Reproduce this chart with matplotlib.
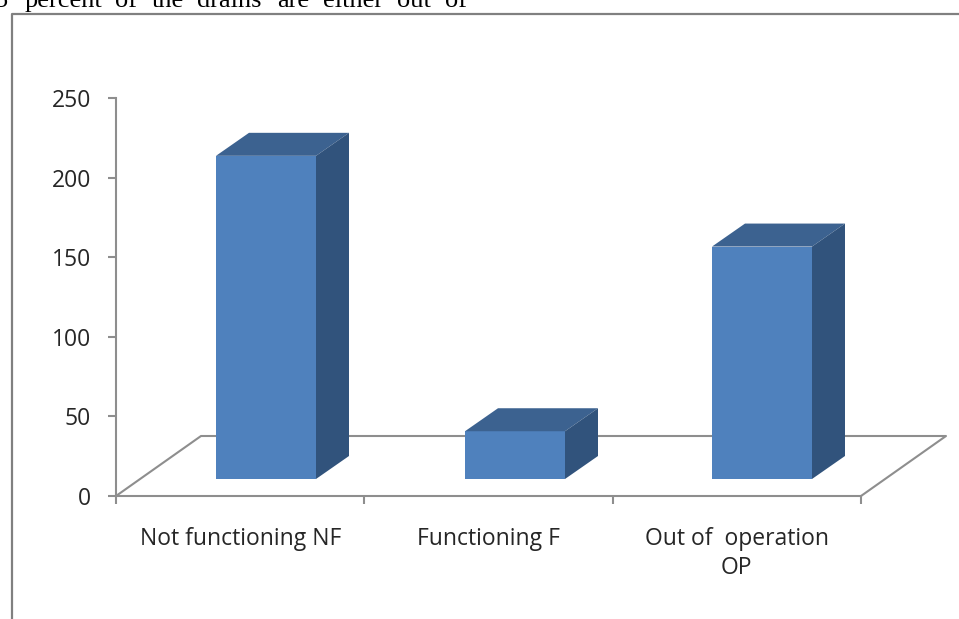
#!/usr/bin/env python3
"""Pseudo-3D column chart of drain condition, with the clipped page text above it."""

import matplotlib

matplotlib.use("Agg")
import matplotlib.pyplot as plt
from matplotlib.patches import Polygon

CATEGORIES = ["Not functioning NF", "Functioning F", "Out of  operation\nOP"]
VALUES = [203, 30, 146]
Y_TICKS = [0, 50, 100, 150, 200, 250]
PAGE_WORDS = ["5", "percent", "of", "the", "drains", "are", "either", "out", "of"]
PAGE_WORD_X = [-6, 25, 115, 152, 197, 277, 323, 397, 445]

W, H = 959, 619
FRONT = "#4F81BD"
TOP = "#3C6290"
SIDE = "#31537C"
LINE = "#8E8E8E"
TEXT = "#262626"

# projection offsets, in pixels
BAR_DX, BAR_DY = 33, 23
FLOOR_DX, FLOOR_DY = 85, 60
BAR_LIFT = 17
BAR_LEFT = [216, 465, 712]
BAR_W = 100

plt.rcParams["font.family"] = ["Open Sans", "DejaVu Sans"]

fig = plt.figure(figsize=(W / 100, H / 100), dpi=100)
left, right, top, bottom = 116, 861, 98, 496
ax = fig.add_axes([left / W, 1 - bottom / H, (right - left) / W, (bottom - top) / H])
ax.set_xlim(0, len(CATEGORIES))
ax.set_ylim(0, 250)
px_x = (right - left) / len(CATEGORIES)
px_y = (bottom - top) / 250

for name in ("top", "right"):
    ax.spines[name].set_visible(False)
for name in ("left", "bottom"):
    ax.spines[name].set_color(LINE)
    ax.spines[name].set_linewidth(1.5)

ax.set_yticks(Y_TICKS)
ax.set_xticks(range(len(CATEGORIES) + 1))
ax.set_xticklabels([])
ax.set_xticks([i + 0.5 for i in range(len(CATEGORIES))], minor=True)
ax.set_xticklabels(CATEGORIES, minor=True, linespacing=1.33)
ax.tick_params(axis="y", length=6, width=1.5, color=LINE, labelcolor=TEXT, labelsize=16.5, pad=12)
ax.tick_params(axis="x", which="major", length=6, width=1.5, color=LINE)
ax.tick_params(axis="x", which="minor", length=0, labelcolor=TEXT, labelsize=16.5, pad=22)

# floor of the 3D box
fx, fy = FLOOR_DX / px_x, FLOOR_DY / px_y
ax.plot([0, fx, 3 + fx, 3], [0, fy, fy, 0], color=LINE, lw=1.5, clip_on=False, zorder=1)

lift = BAR_LIFT / px_y
dx, dy = BAR_DX / px_x, BAR_DY / px_y
width = BAR_W / px_x
for x_px, value in zip(BAR_LEFT, VALUES):
    x0 = (x_px - left) / px_x
    x1 = x0 + width
    y1 = lift + value
    ax.bar(x0, value, width=width, bottom=lift, align="edge", color=FRONT, zorder=3)
    ax.add_patch(Polygon([(x0, y1), (x1, y1), (x1 + dx, y1 + dy), (x0 + dx, y1 + dy)],
                         facecolor=TOP, edgecolor="none", zorder=3, clip_on=False))
    ax.add_patch(Polygon([(x1, lift), (x1 + dx, lift + dy), (x1 + dx, y1 + dy), (x1, y1)],
                         facecolor=SIDE, edgecolor="none", zorder=3, clip_on=False))

# page frame and the line of body text cut off by the crop
fig.add_artist(plt.Line2D([12 / W, 12 / W, 1], [0, 1 - 14 / H, 1 - 14 / H], color="#808080", lw=1.6))
for word, x_px in zip(PAGE_WORDS, PAGE_WORD_X):
    fig.text(x_px / W, 1 - 7 / H, word, family="Liberation Serif", fontsize=19,
             color="black", va="baseline")

fig.savefig("out.png", dpi=100)
